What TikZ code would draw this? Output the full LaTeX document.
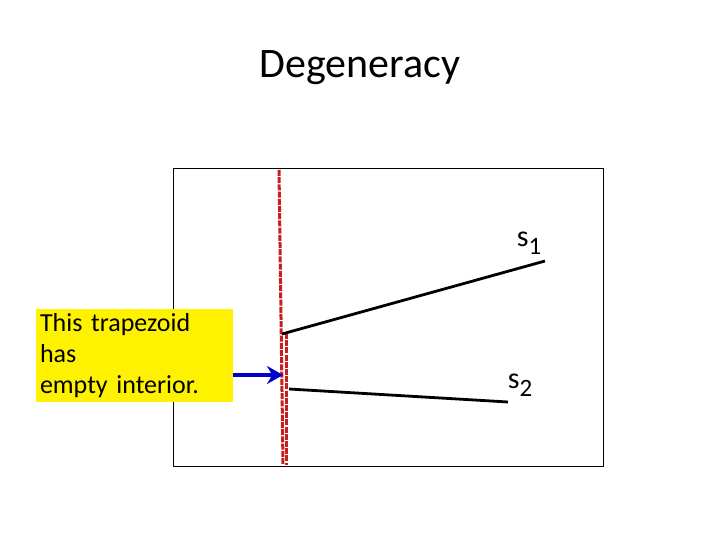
\documentclass[tikz,border=0pt]{standalone}
\usepackage{fontspec}
\setmainfont{Carlito}
\usetikzlibrary{arrows.meta}
\begin{document}
\begin{tikzpicture}[x=1pt,y=-1pt,
 redd/.style={draw={rgb,255:red,200;green,30;blue,30},line width=3pt,dash pattern=on 6pt off 1.2pt},
 seg/.style={line width=2.8pt}]
\useasboundingbox (0,0) rectangle (720,540);
\node[font=\fontsize{42}{48}\selectfont] (t) at (360,68) {Degeneracy};
\draw[line width=1pt] (173,169) rectangle (603,466);
\coordinate (a1) at (279,170); \coordinate (a2) at (283,465);
\coordinate (b1) at (286,333); \coordinate (b2) at (286,465);
\draw[redd] (a1) -- (a2);
\draw[redd] (b1) -- (b2);
\coordinate (p1) at (282,334); \coordinate (q1) at (545,261);
\coordinate (p2) at (289,389); \coordinate (q2) at (508,402);
\draw[seg] (p1) -- (q1);
\draw[seg] (p2) -- (q2);
\node[font=\fontsize{30}{34}\selectfont] (s1) at (529,243) {s\raisebox{-0.25em}{\fontsize{25}{28}\selectfont 1}};
\node[font=\fontsize{30}{34}\selectfont] (s2) at (520,385) {s\raisebox{-0.25em}{\fontsize{25}{28}\selectfont 2}};
\node[fill=yellow,minimum width=197pt,minimum height=65pt,align=left,text width=189pt,inner sep=4pt,font=\fontsize{26}{31}\selectfont] (box) at (134.5,355.5) {This trapezoid has\\empty interior.};
\coordinate (tip) at (283,375);
\draw[blue!80!black,line width=4pt,-{Stealth[length=16pt,width=18pt]}] (box.east|-tip) -- (tip);
\end{tikzpicture}
\end{document}
